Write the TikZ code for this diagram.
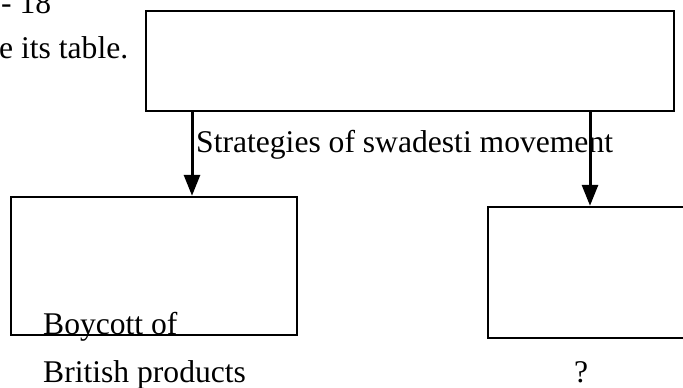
\documentclass[tikz,border=0pt]{standalone}
\usepackage{fontspec}
\setmainfont{Liberation Serif}
\usetikzlibrary{arrows.meta}

\begin{document}
\begin{tikzpicture}[x=1pt,y=-1pt,
  box/.style={draw=black, line width=2.4pt, fill=white, inner sep=0pt, rectangle},
  link/.style={line width=3pt, -{Triangle[length=21pt,width=16pt]}},
  label/.style={anchor=base west, inner sep=0pt, font=\fontsize{31.6}{38}\selectfont}
]
  \useasboundingbox (0,0) rectangle (683,388);
  \clip (0,0) rectangle (683,388);

  % leftover lines of the surrounding question text
  \node[label] (qnum) at (1,13) {- 18};
  \node[label] (qtext) at (-1,58) {e its table.};

  % the three boxes
  \node[box, minimum width=528pt, minimum height=100pt] (top) at (410,61) {};
  \node[box, minimum width=286pt, minimum height=138pt] (left) at (154,266) {};
  \node[box, minimum width=232pt, minimum height=131pt] (right) at (604,272.5) {};

  % connectors
  \coordinate (lx) at (192,0);
  \coordinate (rx) at (590,0);
  \draw[link] (top.south -| lx) -- (left.north -| lx);
  \draw[link] (top.south -| rx) -- (right.north -| rx);

  % texts
  \node[label] (strat) at (196,152) {Strategies of swadesti movement};
  \node[label] (boy1) at (43,334) {Boycott of};
  \node[label] (boy2) at (43,382) {British products};
  \node[label] (qmark) at (574,382) {?};
\end{tikzpicture}
\end{document}
